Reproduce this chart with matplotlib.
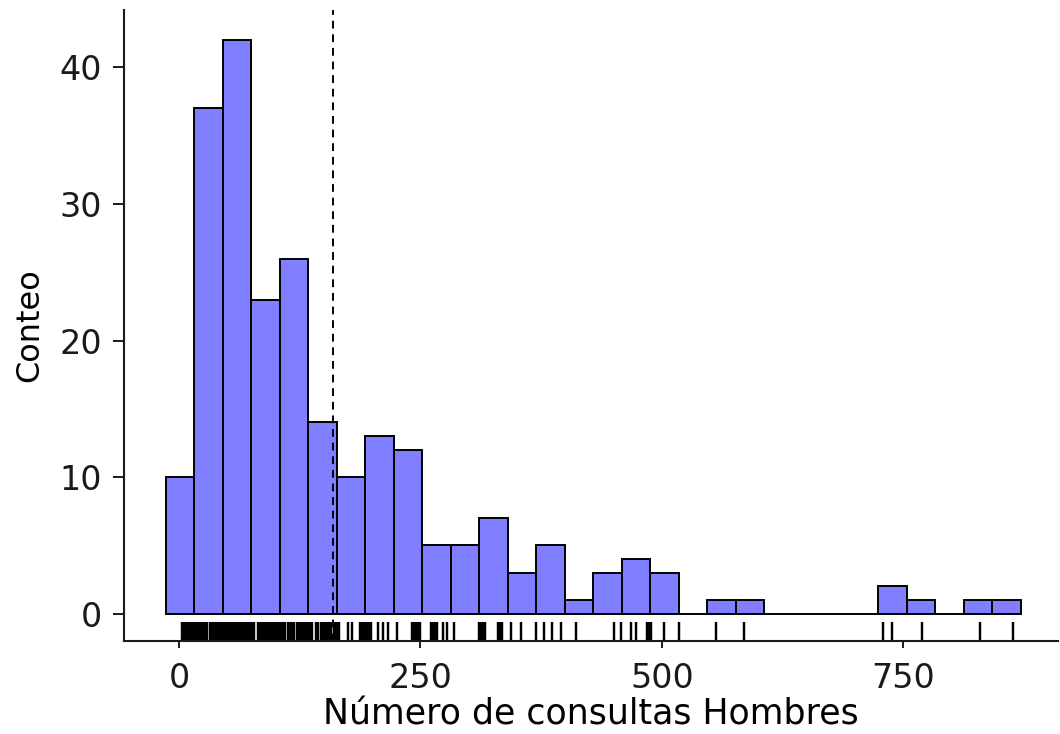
import matplotlib
matplotlib.use("Agg")
import matplotlib.pyplot as plt
import numpy as np

# histogram of consultations (30 bins)
bin_start = -13.8
bin_width = 29.52
counts = [10, 37, 42, 23, 26, 14, 10, 13, 12, 5, 5, 7, 3, 5, 1,
          3, 4, 3, 0, 1, 1, 0, 0, 0, 0, 2, 1, 0, 1, 1]

# rug positions
rug_values = [3, 5, 7, 9, 11, 13, 15, 17, 19, 21, 23, 25, 27, 29,
              32, 34, 36, 38, 40, 42, 44, 46, 48, 50, 52, 54, 56, 58, 60,
              62, 64, 66, 68, 70, 72, 74, 76, 78,
              82, 84, 86, 88, 90, 92, 94, 96, 98, 100, 102, 104, 106, 108, 110,
              113, 115, 117, 119,
              122, 124, 126, 128, 130, 132, 134, 136, 138,
              142, 144,
              147, 149, 151, 153, 155, 157,
              160, 162, 164, 166,
              175, 179,
              187, 189, 191, 193, 195, 197, 199,
              206, 211, 216, 226,
              241, 243, 245, 247, 249,
              261, 263, 265, 267,
              273, 277, 285,
              311, 313, 315, 317,
              330, 332, 334,
              344, 354, 370, 378, 386, 396, 411,
              450, 458, 468, 473,
              485, 487, 489,
              502, 518, 556, 585,
              729, 738, 769, 829, 864]

mean_value = 159.4
x_ticks = [0, 250, 500, 750]
y_ticks = [0, 10, 20, 30, 40]

plt.rcParams['font.family'] = ['DejaVu Sans']

fig = plt.figure(figsize=(10.6, 7.34), dpi=100)
ax = fig.add_axes([0.117, 0.1267, 0.881, 0.8597])

edges = bin_start + bin_width * np.arange(len(counts) + 1)
centers = (edges[:-1] + edges[1:]) / 2
ax.bar(centers, counts, width=bin_width, color='#7F7FFF', edgecolor='black', linewidth=1.4)

ax.vlines(rug_values, 0, 0.03, transform=ax.get_xaxis_transform(), color='black', linewidth=1.75)
ax.axvline(mean_value, color='black', linestyle=(0, (4, 3)), linewidth=1.4)

ax.set_xlim(-57, 910)
ax.set_ylim(-2.0, 44.2)
ax.set_xticks(x_ticks)
ax.set_yticks(y_ticks)

for s in ['top', 'right']:
    ax.spines[s].set_visible(False)
for s in ['left', 'bottom']:
    ax.spines[s].set_linewidth(1.5)
    ax.spines[s].set_color('#1a1a1a')

ax.tick_params(axis='y', length=8, width=1.4, pad=8, labelsize=24, colors='#1a1a1a')
ax.tick_params(axis='x', length=5, width=1.4, pad=10, labelsize=24, colors='#1a1a1a')

ax.set_xlabel('Número de consultas Hombres', fontsize=25, labelpad=2)
ax.set_ylabel('Conteo', fontsize=23, labelpad=10)

fig.savefig('out.png', dpi=100)
